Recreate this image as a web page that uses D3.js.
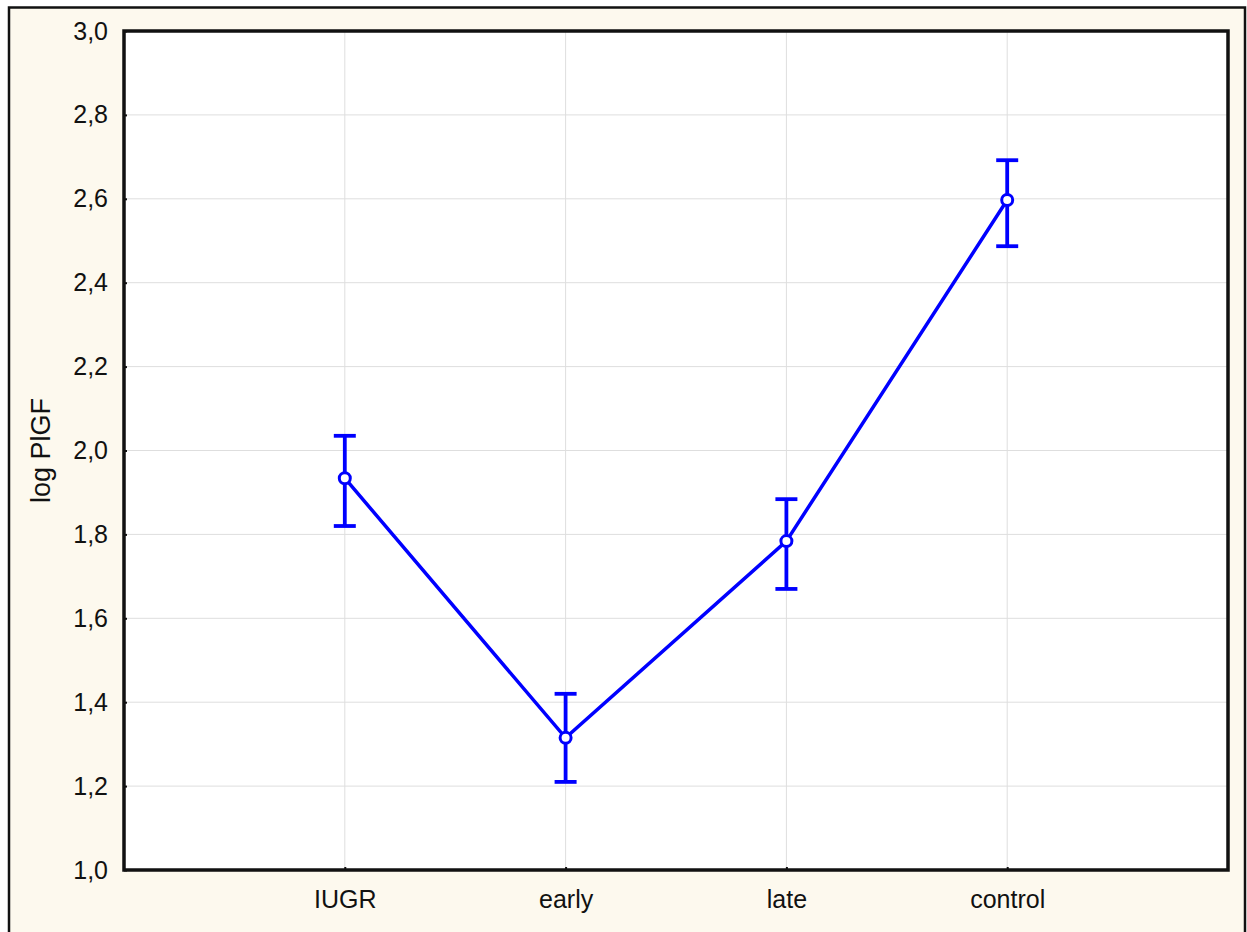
<!DOCTYPE html>
<html>
<head>
<meta charset="utf-8">
<script src="https://cdn.jsdelivr.net/npm/d3@7"></script>
<style>
  body { margin: 0; background: #ffffff; }
  svg { display: block; }
  text { font-family: "Liberation Sans", Arial, sans-serif; fill: #111; }
</style>
</head>
<body>
<div class="chart"></div>
<script>
// data
var groups = ["IUGR", "early", "late", "control"];
var means = [1.934, 1.315, 1.784, 2.597];
var upper = [2.035, 1.420, 1.884, 2.692];
var lower = [1.820, 1.210, 1.670, 2.487];
var yTicks = [1.0, 1.2, 1.4, 1.6, 1.8, 2.0, 2.2, 2.4, 2.6, 2.8, 3.0];

// svg container
var svgWidth = 1247;
var svgHeight = 932;

// plot frame
var margin = { top: 31, right: 19, bottom: 62, left: 124 };
var width = svgWidth - margin.left - margin.right;
var height = svgHeight - margin.top - margin.bottom;

var svg = d3.select(".chart")
  .append("svg")
  .attr("width", svgWidth)
  .attr("height", svgHeight);

// cream background with outer border
svg.append("rect")
  .attr("x", 9)
  .attr("y", 7.5)
  .attr("width", 1236)
  .attr("height", 940)
  .attr("fill", "#fdf9ee")
  .attr("stroke", "#111")
  .attr("stroke-width", 2.5);

var chartGroup = svg.append("g")
  .attr("transform", `translate(${margin.left}, ${margin.top})`);

chartGroup.append("rect")
  .attr("width", width)
  .attr("height", height)
  .attr("fill", "#ffffff");

// scales
var xScale = d3.scalePoint()
  .domain(groups)
  .range([0, width])
  .padding(1);

var yScale = d3.scaleLinear()
  .domain([1.0, 3.0])
  .range([height, 0]);

var fmt = d => d3.format(".1f")(d).replace(".", ",");

// gridlines
chartGroup.append("g")
  .selectAll("line")
  .data(yTicks.slice(1, -1))
  .enter()
  .append("line")
  .attr("x1", 0)
  .attr("x2", width)
  .attr("y1", d => yScale(d))
  .attr("y2", d => yScale(d))
  .attr("stroke", "#dedede")
  .attr("stroke-width", 1);

chartGroup.append("g")
  .selectAll("line")
  .data(groups)
  .enter()
  .append("line")
  .attr("x1", d => xScale(d))
  .attr("x2", d => xScale(d))
  .attr("y1", 0)
  .attr("y2", height)
  .attr("stroke", "#dedede")
  .attr("stroke-width", 1);

// axes (small inward ticks)
var leftAxis = d3.axisLeft(yScale)
  .tickValues(yTicks)
  .tickSize(-3)
  .tickPadding(16)
  .tickFormat(fmt);

var bottomAxis = d3.axisBottom(xScale)
  .tickSize(-3)
  .tickPadding(20);

var yAxis = chartGroup.append("g").call(leftAxis);
var xAxis = chartGroup.append("g")
  .attr("transform", `translate(0, ${height})`)
  .call(bottomAxis);

[yAxis, xAxis].forEach(function(ax) {
  ax.select(".domain").remove();
  ax.selectAll("line").attr("stroke", "#111").attr("stroke-width", 2);
  ax.selectAll("text")
    .attr("fill", "#111")
    .style("font-size", "25px")
    .style("font-family", "'Liberation Sans', Arial, sans-serif");
});

// frame
chartGroup.append("rect")
  .attr("width", width)
  .attr("height", height)
  .attr("fill", "none")
  .attr("stroke", "#111")
  .attr("stroke-width", 3.5);

// y label
chartGroup.append("text")
  .attr("transform", "rotate(-90)")
  .attr("x", -height / 2)
  .attr("y", 50 - margin.left)
  .attr("text-anchor", "middle")
  .style("font-size", "27px")
  .text("log PlGF");

// mean line
var line = d3.line()
  .x((d, i) => xScale(groups[i]))
  .y(d => yScale(d));

chartGroup.append("path")
  .datum(means)
  .attr("d", line)
  .attr("fill", "none")
  .attr("stroke", "#0000ff")
  .attr("stroke-width", 3.5);

// error bars
var bars = chartGroup.append("g")
  .selectAll("g")
  .data(groups)
  .enter()
  .append("g")
  .attr("stroke", "#0000ff")
  .attr("stroke-width", 3.8);

bars.append("line")
  .attr("x1", d => xScale(d))
  .attr("x2", d => xScale(d))
  .attr("y1", (d, i) => yScale(upper[i]))
  .attr("y2", (d, i) => yScale(lower[i]));

bars.append("line")
  .attr("x1", d => xScale(d) - 11)
  .attr("x2", d => xScale(d) + 11)
  .attr("y1", (d, i) => yScale(upper[i]))
  .attr("y2", (d, i) => yScale(upper[i]));

bars.append("line")
  .attr("x1", d => xScale(d) - 11)
  .attr("x2", d => xScale(d) + 11)
  .attr("y1", (d, i) => yScale(lower[i]))
  .attr("y2", (d, i) => yScale(lower[i]));

// mean markers
chartGroup.append("g")
  .selectAll("circle")
  .data(means)
  .enter()
  .append("circle")
  .attr("cx", (d, i) => xScale(groups[i]))
  .attr("cy", d => yScale(d))
  .attr("r", 5.5)
  .attr("fill", "#ffffff")
  .attr("stroke", "#0000ff")
  .attr("stroke-width", 3);
</script>
</body>
</html>
